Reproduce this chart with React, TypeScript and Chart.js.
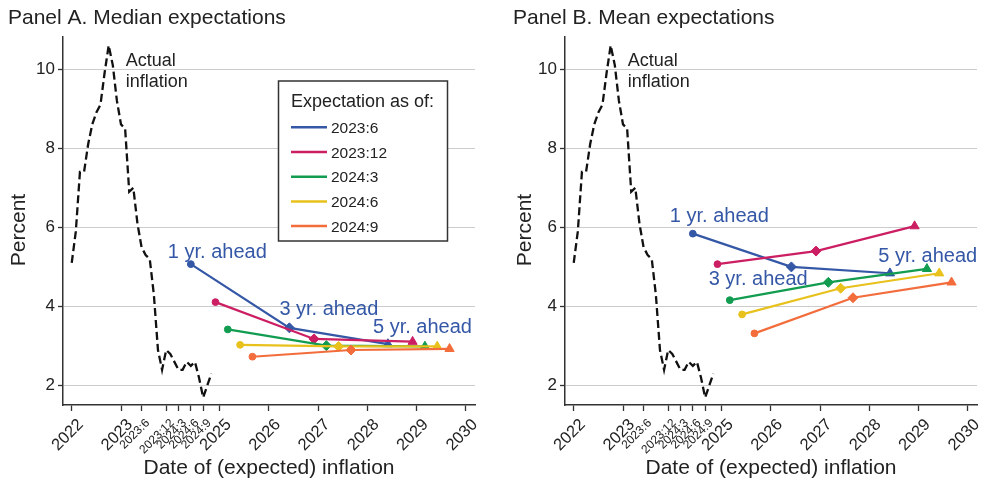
import React, { useEffect, useRef } from 'react';
import { Chart, registerables } from 'chart.js';

Chart.register(...registerables);

const FONT = '"Liberation Sans", Arial, Helvetica, sans-serif';
const TEXT = '#222222';
const AXIS = '#333333';

// ---------- data ----------
const inflationStart = '2022:1';
const actualInflation = [
  5.1, 5.9, 7.4, 7.4, 8.1, 8.6, 8.9, 9.1, 9.9, 10.6, 10.1, 9.2,
  8.6, 8.5, 6.9, 7.0, 6.1, 5.5, 5.3, 5.2, 4.3, 2.9, 2.4, 2.9,
  2.8, 2.6, 2.4, 2.4, 2.6, 2.5, 2.6, 2.2, 1.7, 2.0, 2.3,
];

const surveyDates = ['2023:6', '2023:12', '2024:3', '2024:6', '2024:9'];
const horizonYears = [1, 3, 5];
const horizonLabels = ['1 yr. ahead', '3 yr. ahead', '5 yr. ahead'];
const seriesColors = ['#3457a6', '#cc1f63', '#119c50', '#e8c11c', '#f36c3b'];

// Median expectations (Panel A), per survey date, at 1/3/5 years ahead
const median2023m6 = [5.07, 3.46, 3.05];
const median2023m12 = [4.11, 3.18, 3.11];
const median2024m3 = [3.42, 3.01, 2.99];
const median2024m6 = [3.03, 2.99, 2.99];
const median2024m9 = [2.73, 2.9, 2.93];

// Mean expectations (Panel B)
const mean2023m6 = [5.84, 5.0, 4.84];
const mean2023m12 = [5.07, 5.4, 6.03];
const mean2024m3 = [4.16, 4.61, 4.95];
const mean2024m6 = [3.8, 4.46, 4.84];
const mean2024m9 = [3.32, 4.22, 4.61];

const xTickLabels = ['2022', '2023', '2023:6', '2023:12', '2024:3', '2024:6', '2024:9', '2025', '2026', '2027', '2028', '2029', '2030'];
const yTickValues = [2, 4, 6, 8, 10];

const legendTitle = 'Expectation as of:';
const actualLabel = ['Actual', 'inflation'];

// ---------- helpers ----------
function parseDate(s: string): number {
  const [y, m] = s.split(':');
  return Number(y) + (m ? (Number(m) - 1) / 12 : 0);
}
const xTickValues = xTickLabels.map(parseDate);

function drawText(ctx: CanvasRenderingContext2D, txt: string, x: number, cy: number, size: number, color: string, align: CanvasTextAlign = 'left') {
  ctx.font = `${size}px ${FONT}`;
  ctx.fillStyle = color;
  ctx.textAlign = align;
  ctx.textBaseline = 'alphabetic';
  ctx.fillText(txt, x, cy + 0.358 * size);
}

type PanelCfg = {
  key: string;
  left: number;
  title: string;
  titleX: number;
  yTitleX: number;
  series: number[][];
  labelOffsets: number[][];
  showLegend: boolean;
};

const panels: PanelCfg[] = [
  {
    key: 'A',
    left: 0,
    title: 'Panel A. Median expectations',
    titleX: 8,
    yTitleX: 17.5,
    series: [median2023m6, median2023m12, median2024m3, median2024m6, median2024m9],
    labelOffsets: [[-23, -13.5], [-10, -19.7], [-15, -18]],
    showLegend: true,
  },
  {
    key: 'B',
    left: 502,
    title: 'Panel B. Mean expectations',
    titleX: 11,
    yTitleX: 21,
    series: [mean2023m6, mean2023m12, mean2024m3, mean2024m6, mean2024m9],
    labelOffsets: [[-23, -18.4], [-82.7, 11.3], [-11.7, -18.3]],
    showLegend: false,
  },
];

function makeOverlay(cfg: PanelCfg) {
  return {
    id: 'overlay' + cfg.key,
    afterDatasetsDraw(chart: any) {
      const ctx: CanvasRenderingContext2D = chart.ctx;
      const xs = chart.scales.x;
      const ys = chart.scales.y;
      ctx.save();
      // "Actual inflation" label near the peak
      let peak = 0;
      actualInflation.forEach((v, i) => { if (v > actualInflation[peak]) peak = i; });
      const px = xs.getPixelForValue(parseDate(inflationStart) + peak / 12);
      const py = ys.getPixelForValue(actualInflation[peak]);
      drawText(ctx, actualLabel[0], px + 17, py + 14.1, 18, TEXT);
      drawText(ctx, actualLabel[1], px + 17, py + 34.8, 18, TEXT);
      // horizon labels anchored to the first survey's points
      horizonYears.forEach((h, j) => {
        const x = xs.getPixelForValue(parseDate(surveyDates[0]) + h);
        const y = ys.getPixelForValue(cfg.series[0][j]);
        drawText(ctx, horizonLabels[j], x + cfg.labelOffsets[j][0], y + cfg.labelOffsets[j][1], 20, seriesColors[0]);
      });
      ctx.restore();
    },
    afterDraw(chart: any) {
      const ctx: CanvasRenderingContext2D = chart.ctx;
      const area = chart.chartArea;
      const xs = chart.scales.x;
      ctx.save();
      // rotated x tick labels (end-top corner of each label sits under its tick)
      xTickLabels.forEach((lab, i) => {
        const isMonth = lab.includes(':');
        const size = isMonth ? 12 : 16.5;
        const tx = xs.getPixelForValue(xTickValues[i]);
        ctx.save();
        ctx.translate(tx + (isMonth ? 2.5 : 4), area.bottom + (isMonth ? 12.5 : 12));
        ctx.rotate(-Math.PI / 4);
        ctx.font = `${size}px ${FONT}`;
        ctx.fillStyle = TEXT;
        ctx.textAlign = 'right';
        ctx.textBaseline = 'alphabetic';
        ctx.fillText(lab, 0, 0.716 * size);
        ctx.restore();
      });
      // panel title
      drawText(ctx, cfg.title, cfg.titleX, 16.5, 21, TEXT);
      // x axis title
      drawText(ctx, 'Date of (expected) inflation', (area.left + area.right) / 2, 466, 21, TEXT, 'center');
      // y axis title
      ctx.save();
      ctx.translate(cfg.yTitleX, 230);
      ctx.rotate(-Math.PI / 2);
      drawText(ctx, 'Percent', 0, 0, 21, TEXT, 'center');
      ctx.restore();
      // legend
      if (cfg.showLegend) {
        const bx = 278.5, by = 81, bw = 169, bh = 160;
        ctx.fillStyle = '#ffffff';
        ctx.fillRect(bx, by, bw, bh);
        ctx.strokeStyle = AXIS;
        ctx.lineWidth = 1.5;
        ctx.strokeRect(bx, by, bw, bh);
        drawText(ctx, legendTitle, bx + 12.5, by + 20, 18, TEXT);
        surveyDates.forEach((s, i) => {
          const cy = by + 46.3 + i * 24.7;
          ctx.strokeStyle = seriesColors[i];
          ctx.lineWidth = 2.5;
          ctx.beginPath();
          ctx.moveTo(bx + 12.5, cy);
          ctx.lineTo(bx + 48.5, cy);
          ctx.stroke();
          drawText(ctx, s, bx + 52.5, cy, 15.5, TEXT);
        });
      }
      ctx.restore();
    },
  };
}

function Panel({ cfg }: { cfg: PanelCfg }) {
  const ref = useRef<HTMLCanvasElement>(null);
  useEffect(() => {
    const canvas = ref.current;
    if (!canvas) return;
    const start = parseDate(inflationStart);
    const datasets: any[] = [
      {
        label: 'Actual inflation',
        data: actualInflation.map((v, i) => ({ x: start + i / 12, y: v })),
        borderColor: '#111111',
        borderWidth: 2.3,
        borderDash: [8, 4],
        pointRadius: 0,
        fill: false,
        tension: 0,
        order: 10,
      },
      ...surveyDates.map((s, i) => ({
        label: s,
        data: horizonYears.map((h, j) => ({ x: parseDate(s) + h, y: cfg.series[i][j] })),
        borderColor: seriesColors[i],
        backgroundColor: seriesColors[i],
        borderWidth: 2.2,
        pointStyle: ['circle', 'rectRot', 'triangle'],
        pointRadius: [3.4, 5, 5.3],
        pointBackgroundColor: seriesColors[i],
        pointBorderColor: seriesColors[i],
        pointBorderWidth: 1,
        fill: false,
        tension: 0,
        order: 5 - i,
      })),
    ];
    const chart = new Chart(canvas, {
      type: 'line',
      data: { datasets },
      options: {
        responsive: false,
        animation: false,
        devicePixelRatio: 1,
        events: [],
        layout: { padding: { top: 37, right: 17, bottom: 0, left: 0 } },
        plugins: {
          legend: { display: false },
          tooltip: { enabled: false },
          title: { display: false },
        },
        scales: {
          x: {
            type: 'linear',
            min: 2021.823,
            max: 2030.183,
            afterFit: (s: any) => { s.height = 78; },
            afterBuildTicks: (s: any) => { s.ticks = xTickValues.map((v) => ({ value: v })); },
            ticks: {
              display: false,
              autoSkip: false,
              callback: (_v: any, i: number) => xTickLabels[i],
            },
            grid: { drawOnChartArea: false, drawTicks: true, tickLength: 6, tickColor: AXIS, tickWidth: 1.3 },
            border: { display: true, color: AXIS, width: 1.5 },
          },
          y: {
            type: 'linear',
            min: 1.51,
            max: 10.81,
            afterFit: (s: any) => { s.width = 63; },
            afterBuildTicks: (s: any) => { s.ticks = yTickValues.map((v) => ({ value: v })); },
            ticks: {
              padding: 3,
              color: TEXT,
              font: { family: FONT, size: 17 },
              callback: (v: any) => String(v),
            },
            grid: { color: '#cccccc', lineWidth: 1, drawTicks: true, tickLength: 5, tickColor: AXIS, tickWidth: 1.3 },
            border: { display: true, color: AXIS, width: 1.5 },
          },
        },
      } as any,
      plugins: [makeOverlay(cfg)],
    });
    return () => chart.destroy();
  }, [cfg]);
  return (
    <canvas
      ref={ref}
      width={492}
      height={483}
      style={{ position: 'absolute', left: cfg.left, top: 0, width: 492, height: 483 }}
    />
  );
}

export default function App() {
  return (
    <div style={{ position: 'absolute', left: 0, top: 0, width: 985, height: 483, overflow: 'hidden', background: '#ffffff' }}>
      {panels.map((p) => (
        <Panel key={p.key} cfg={p} />
      ))}
    </div>
  );
}
